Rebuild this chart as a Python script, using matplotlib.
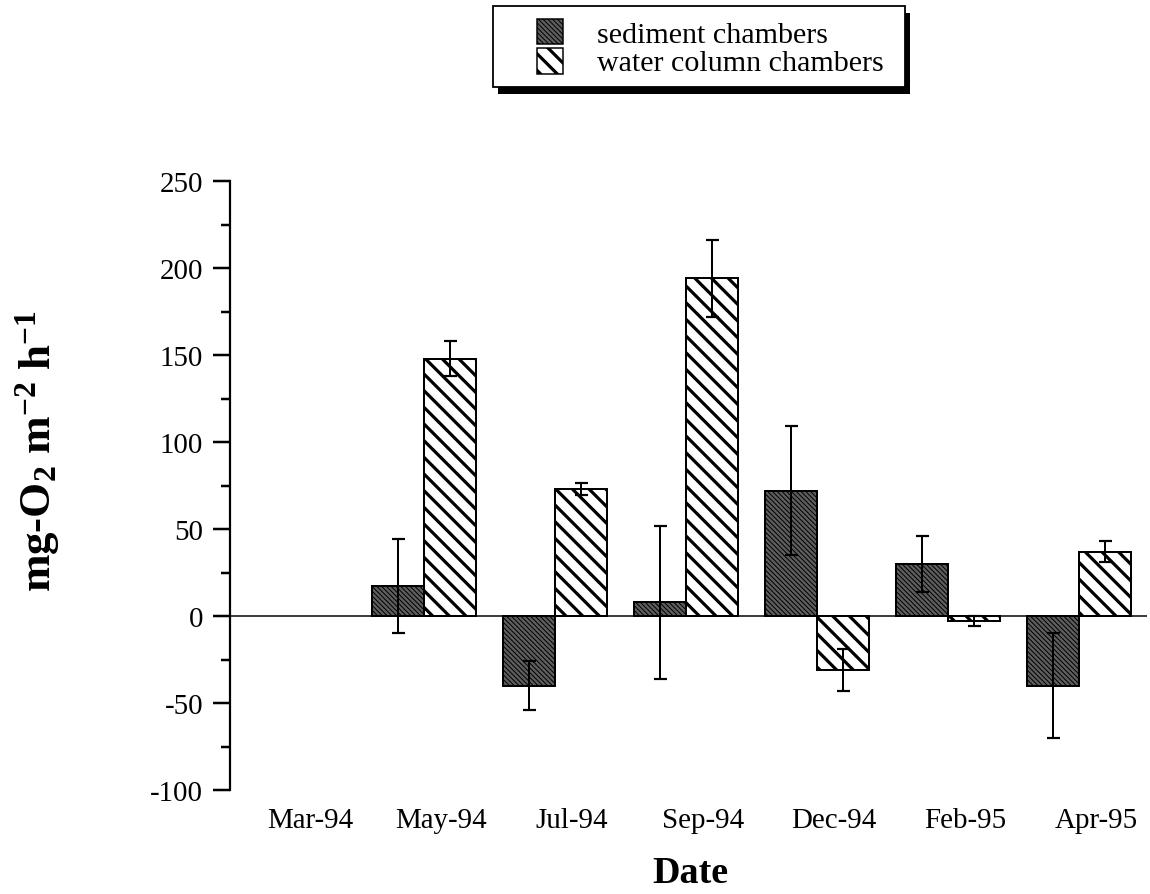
import numpy as np
import matplotlib
matplotlib.use('Agg')
import matplotlib.pyplot as plt
from matplotlib.patches import Rectangle
from matplotlib.ticker import MultipleLocator

plt.rcParams['font.family'] = ['Liberation Serif', 'DejaVu Serif']
plt.rcParams['mathtext.default'] = 'regular'
plt.rcParams['axes.unicode_minus'] = False

# Net O2 flux per sampling date
dates = ['Mar-94', 'May-94', 'Jul-94', 'Sep-94', 'Dec-94', 'Feb-95', 'Apr-95']
sediment = [np.nan, 17, -40, 8, 72, 30, -40]
sediment_err = [np.nan, 27, 14, 44, 37, 16, 30]
water = [np.nan, 148, 73, 194, -31, -3, 37]
water_err = [np.nan, 10, 3.5, 22, 12, 3, 6]
series_names = ['sediment chambers', 'water column chambers']

DPI = 100
P = 72 / DPI  # pixels -> points

SED_FACE, SED_HATCH, SED_HLW = '#5e5e5e', '\\' * 7, 1.0 * P
WAT_FACE, WAT_HATCH, WAT_HLW = 'white', '\\\\', 3.2 * P

x = np.arange(len(dates))
width = 0.4

W, H = 1150, 895
fig = plt.figure(figsize=(W / DPI, H / DPI), dpi=DPI)
ax = fig.add_axes([0.2, 0.1162, 0.7974, 0.6804])


def set_hatch_lw(patches, lw):
    for p in patches:
        if hasattr(p, 'set_hatch_linewidth'):
            p.set_hatch_linewidth(lw)


plt.rcParams['hatch.linewidth'] = SED_HLW
sed_bars = ax.bar(x - width / 2, sediment, width, color=SED_FACE, edgecolor='black',
                  linewidth=2 * P, hatch=SED_HATCH, zorder=2)
set_hatch_lw(sed_bars, SED_HLW)

plt.rcParams['hatch.linewidth'] = WAT_HLW
wat_bars = ax.bar(x + width / 2, water, width, color=WAT_FACE, edgecolor='black',
                  linewidth=2 * P, hatch=WAT_HATCH, zorder=2)
set_hatch_lw(wat_bars, WAT_HLW)

for xs, ys, es in [(x - width / 2, sediment, sediment_err), (x + width / 2, water, water_err)]:
    ax.errorbar(xs, ys, yerr=es, fmt='none', ecolor='black', elinewidth=2 * P,
                capsize=6.5 * P, capthick=2.2 * P, zorder=3)

ax.axhline(0, color='black', linewidth=1.5 * P, zorder=1)

ax.set_xlim(-0.481, 6.52)
ax.set_ylim(-100, 250)
ax.yaxis.set_major_locator(MultipleLocator(50))
ax.yaxis.set_minor_locator(MultipleLocator(25))
ax.set_xticks(x + 0.13)
ax.set_xticklabels(dates)

for s in ['top', 'right', 'bottom']:
    ax.spines[s].set_visible(False)
ax.spines['left'].set_linewidth(2.2 * P)

ax.tick_params(axis='x', length=0, pad=17 * P, labelsize=29 * P)
ax.tick_params(axis='y', which='major', length=17 * P, width=2.5 * P, pad=10 * P,
               labelsize=29 * P)
ax.tick_params(axis='y', which='minor', length=9.5 * P, width=2.5 * P)

fig.text(0.033, 0.496, 'mg-O$_2$ m$^{-2}$ h$^{-1}$', rotation=90, ha='center',
         va='center', fontsize=45 * P, fontweight='bold')
fig.text(0.6, 0.024, 'Date', ha='center', va='center', fontsize=38 * P, fontweight='bold')


# legend box drawn in pixel units (top-left origin) on the figure
def px_rect(x0, y0, x1, y1, **kw):
    return Rectangle((x0 / W, 1 - y1 / H), (x1 - x0) / W, (y1 - y0) / H,
                     transform=fig.transFigure, **kw)


fig.patches.append(px_rect(498, 14, 910, 95, facecolor='black', edgecolor='none', zorder=4))
fig.patches.append(px_rect(493, 7, 905, 88, facecolor='white', edgecolor='black',
                           linewidth=1.8 * P, zorder=5))
plt.rcParams['hatch.linewidth'] = SED_HLW
key1 = px_rect(537, 20, 563, 45, facecolor=SED_FACE, edgecolor='black', hatch=SED_HATCH,
               linewidth=1.5 * P, zorder=6)
plt.rcParams['hatch.linewidth'] = WAT_HLW
key2 = px_rect(537, 49, 563, 75, facecolor=WAT_FACE, edgecolor='black', hatch=WAT_HATCH,
               linewidth=1.5 * P, zorder=6)
set_hatch_lw([key1], SED_HLW)
set_hatch_lw([key2], WAT_HLW)
fig.patches.extend([key1, key2])
for name, yc in zip(series_names, [33, 61]):
    fig.text(597 / W, 1 - yc / H, name, ha='left', va='center_baseline', fontsize=30 * P,
             zorder=7)

fig.savefig('out.png', dpi=DPI)
